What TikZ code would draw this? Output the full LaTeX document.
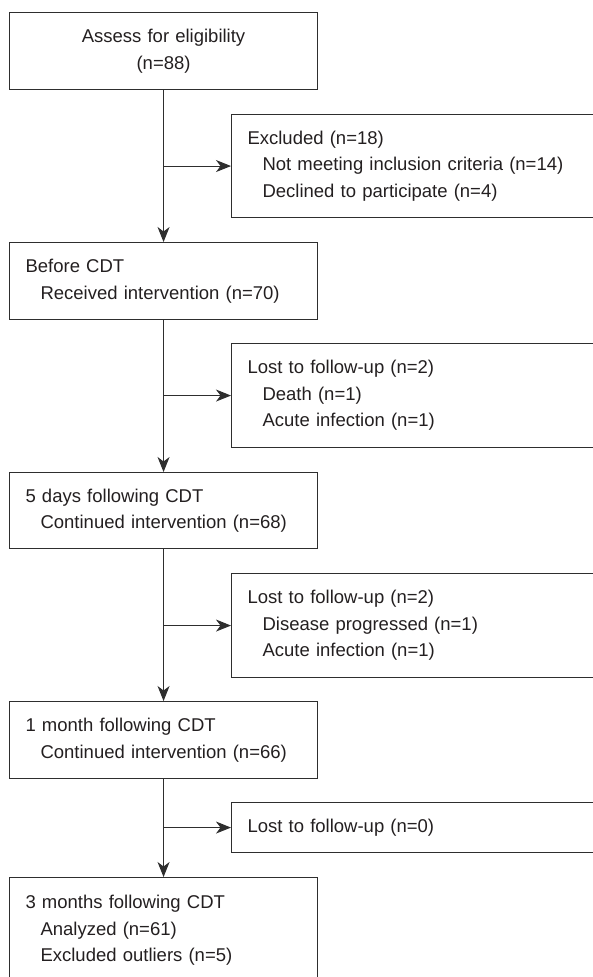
\documentclass[tikz,border=0pt]{standalone}
\usepackage{fontspec}
\setmainfont{Liberation Sans}
\usetikzlibrary{arrows.meta,calc}
\definecolor{ln}{HTML}{2E2E2E}
\definecolor{tx}{HTML}{231F20}
\begin{document}
\begin{tikzpicture}[x=1pt,y=-1pt,
  box/.style={draw=ln, line width=1.1pt, rectangle, inner xsep=16pt, inner ysep=0pt,
    align=left, anchor=north west, text=tx, font=\fontsize{18.5}{26.5}\selectfont},
  leftbox/.style={box, text width=276pt},
  rightbox/.style={box, text width=333pt},
  arr/.style={draw=ln, line width=1.1pt, -{Stealth[length=15pt,width=12pt,inset=4.5pt]}}]
\useasboundingbox (0,0) rectangle (592,977);
\newcommand{\ind}{\hspace*{15pt}}
% left column
\node[box, text width=276pt, align=center, minimum height=77pt] (b1) at (9,12)
  {Assess for eligibility\\(n=88)};
\node[leftbox, minimum height=77pt] (b2) at (9,242)
  {Before CDT\\\ind Received intervention (n=70)};
\node[leftbox, minimum height=76pt] (b3) at (9,472)
  {5 days following CDT\\\ind Continued intervention (n=68)};
\node[leftbox, minimum height=77pt] (b4) at (9,701)
  {1 month following CDT\\\ind Continued intervention (n=66)};
\node[leftbox, minimum height=106pt] (b5) at (9,877)
  {3 months following CDT\\\ind Analyzed (n=61)\\\ind Excluded outliers (n=5)};
% right column
\node[rightbox, minimum height=103pt] (e1) at (231,114)
  {Excluded (n=18)\\\ind Not meeting inclusion criteria (n=14)\\\ind Declined to participate (n=4)};
\node[rightbox, minimum height=104pt] (l2) at (231,343)
  {Lost to follow-up (n=2)\\\ind Death (n=1)\\\ind Acute infection (n=1)};
\node[rightbox, minimum height=104pt] (l3) at (231,573)
  {Lost to follow-up (n=2)\\\ind Disease progressed (n=1)\\\ind Acute infection (n=1)};
\node[rightbox, minimum height=50pt] (l4) at (231,802)
  {Lost to follow-up (n=0)};
% junctions
\coordinate (j1) at (b1.south |- e1.west);
\coordinate (j2) at (b2.south |- l2.west);
\coordinate (j3) at (b3.south |- l3.west);
\coordinate (j4) at (b4.south |- l4.west);
% connectors
\draw[arr] (b1.south) -- (b2.north);
\draw[arr] (b2.south) -- (b3.north);
\draw[arr] (b3.south) -- (b4.north);
\draw[arr] (b4.south) -- (b5.north);
\draw[arr] (j1) -- (e1.west);
\draw[arr] (j2) -- (l2.west);
\draw[arr] (j3) -- (l3.west);
\draw[arr] (j4) -- (l4.west);
\end{tikzpicture}
\end{document}
